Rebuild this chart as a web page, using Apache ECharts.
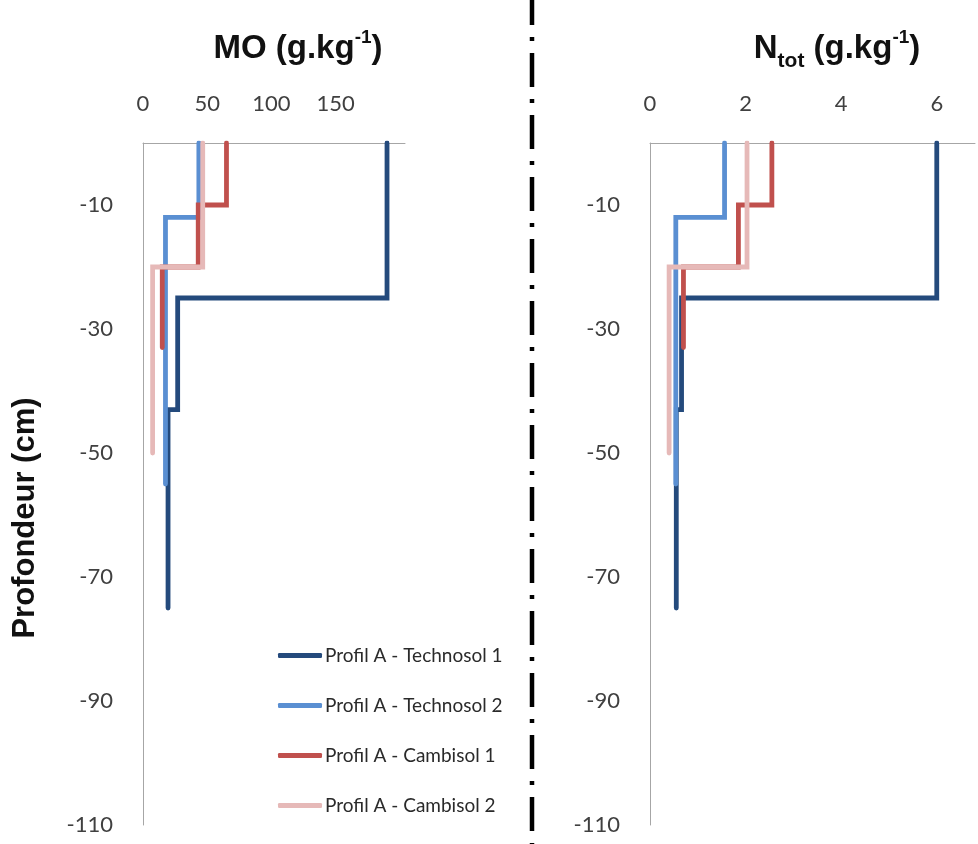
<!DOCTYPE html>
<html>
<head>
<meta charset="utf-8">
<script src="https://cdn.jsdelivr.net/npm/echarts@6/dist/echarts.min.js"></script>
<style>html,body{margin:0;padding:0;background:#fff}#c{width:978px;height:844px}</style>
</head>
<body>
<div id="c"></div>
<script>
// Depth boundaries (cm) of each horizon
const depthTech1 = [0, -25, -43, -75];
const depthTech2 = [0, -12, -55];
const depthCamb1 = [0, -10, -20, -33];
const depthCamb2 = [0, -20, -50];
// MO (g.kg-1) per horizon
const moTech1 = [190, 27, 19.5];
const moTech2 = [43.5, 17.5];
const moCamb1 = [65, 43, 15];
const moCamb2 = [46.5, 7.5];
// Ntot (g.kg-1) per horizon
const nTech1 = [6.0, 0.66, 0.55];
const nTech2 = [1.56, 0.54];
const nCamb1 = [2.55, 1.85, 0.70];
const nCamb2 = [2.03, 0.40];

const seriesNames = ['Profil A - Technosol 1', 'Profil A - Technosol 2', 'Profil A - Cambisol 1', 'Profil A - Cambisol 2'];
const colors = ['#244A7C', '#5A8FD2', '#C0504D', '#E6B9B8'];
const depths = [depthTech1, depthTech2, depthCamb1, depthCamb2];
const moVals = [moTech1, moTech2, moCamb1, moCamb2];
const nVals = [nTech1, nTech2, nCamb1, nCamb2];

function steps(vals, d) {
  const pts = [];
  vals.forEach((v, i) => { pts.push([v, d[i]]); pts.push([v, d[i + 1]]); });
  return pts;
}

const axisLine = { show: true, lineStyle: { color: '#A6A6A6', width: 1 } };
const labelFont = { fontFamily: 'Lato', fontSize: 22, color: '#404040' };

function yAxis(idx) {
  return {
    type: 'value', gridIndex: idx, min: -110, max: 0, interval: 10,
    axisLine: axisLine, axisTick: { show: false }, splitLine: { show: false },
    axisLabel: Object.assign({ margin: 30, formatter: v => ((v + 10) % 20 === 0 && v < 0) ? String(v) : '' }, labelFont)
  };
}

const series = [];
seriesNames.forEach((name, k) => {
  series.push({ name, type: 'line', xAxisIndex: 0, yAxisIndex: 0, data: steps(moVals[k], depths[k]),
    showSymbol: false, symbol: 'none', color: colors[k],
    lineStyle: { width: 4.8, color: colors[k], cap: 'round', join: 'miter' } });
});
seriesNames.forEach((name, k) => {
  series.push({ name, type: 'line', xAxisIndex: 1, yAxisIndex: 1, data: steps(nVals[k], depths[k]),
    showSymbol: false, symbol: 'none', color: colors[k],
    lineStyle: { width: 4.8, color: colors[k], cap: 'round', join: 'miter' } });
});

const titleRich = {
  m: { fontFamily: 'Liberation Sans', fontWeight: 'bold', fontSize: 33, color: '#111', lineHeight: 40, verticalAlign: 'bottom' },
  sup: { fontFamily: 'Liberation Sans', fontWeight: 'bold', fontSize: 19, color: '#111', lineHeight: 40, verticalAlign: 'top', padding: [3, 0, 0, 0] },
  sub: { fontFamily: 'Liberation Sans', fontWeight: 'bold', fontSize: 21, color: '#111', lineHeight: 40, verticalAlign: 'bottom', padding: [0, 0, -7, 0] }
};

const chart = echarts.init(document.getElementById('c'), null, { renderer: 'canvas' });
chart.setOption({
  animation: false,
  backgroundColor: '#fff',
  title: [
    { text: '{m|MO (g.kg}{sup|-1}{m|)}', left: 293, top: 20, textAlign: 'center', textStyle: { rich: titleRich } },
    { text: '{m|N}{sub|tot}{m| (g.kg}{sup|-1}{m|)}', left: 832, top: 20, textAlign: 'center', textStyle: { rich: titleRich } }
  ],
  grid: [
    { left: 143, top: 143, width: 262, height: 682 },
    { left: 650, top: 143, width: 328, height: 682 }
  ],
  xAxis: [
    { type: 'value', gridIndex: 0, position: 'top', min: 0, max: 204, interval: 50,
      axisLine: axisLine, axisTick: { show: false }, splitLine: { show: false },
      axisLabel: Object.assign({ margin: 28, formatter: v => v <= 150 ? String(v) : '' }, labelFont) },
    { type: 'value', gridIndex: 1, position: 'top', min: 0, max: 6.8, interval: 2,
      axisLine: axisLine, axisTick: { show: false }, splitLine: { show: false },
      axisLabel: Object.assign({ margin: 28, formatter: v => v <= 6 ? String(v) : '' }, labelFont) }
  ],
  yAxis: [yAxis(0), yAxis(1)],
  legend: {
    orient: 'vertical', left: 273, top: 641, itemWidth: 44, itemHeight: 5, itemGap: 31,
    icon: 'roundRect', data: seriesNames,
    textStyle: { fontFamily: 'Lato', fontSize: 19, color: '#2a2a2a', padding: [0, 0, 0, -2] }
  },
  graphic: [
    { type: 'line', shape: { x1: 532, y1: 0, x2: 532, y2: 844 }, silent: true,
      style: { stroke: '#000', lineWidth: 4.5, lineDash: [34, 12, 4, 12], lineDashOffset: 9 } },
    { type: 'text', rotation: Math.PI / 2, silent: true,
      x: 25, y: 518, style: { text: 'Profondeur (cm)', fontFamily: 'Liberation Sans', fontWeight: 'bold', fontSize: 31, fill: '#111', align: 'center', verticalAlign: 'middle' } }
  ],
  series
});
</script>
</body>
</html>
